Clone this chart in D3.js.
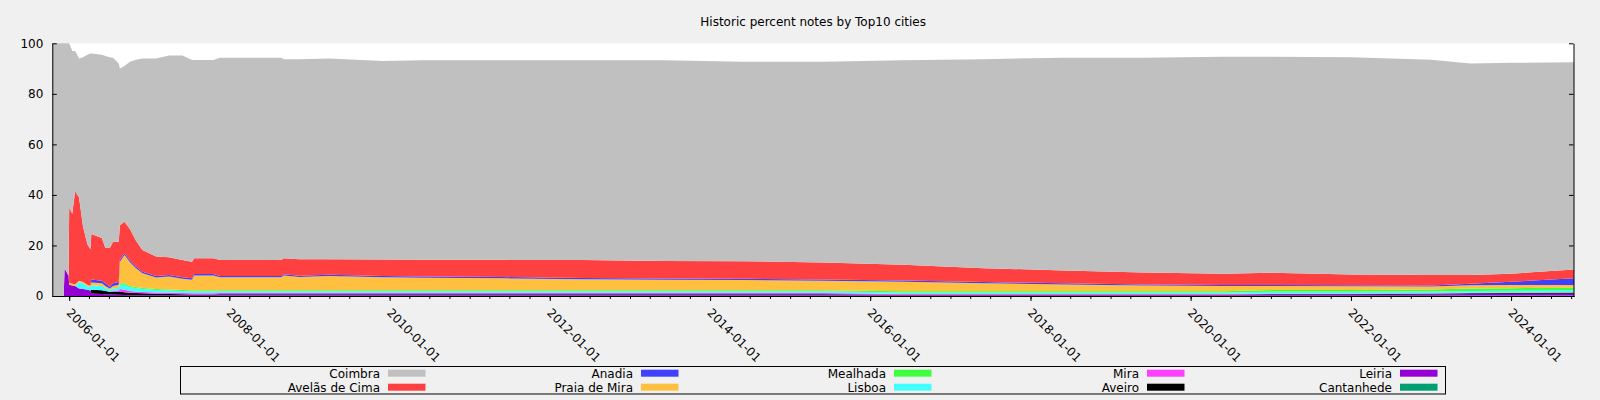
<!DOCTYPE html>
<html><head><meta charset="utf-8">
<script src="https://cdn.jsdelivr.net/npm/d3@7"></script>
<style>
body{margin:0;background:#f0f0f0;}
svg{display:block;font-family:"DejaVu Sans",sans-serif;}
</style>
</head><body>
<svg id="chart" width="1600" height="400"></svg>
<script>
// ---- data (percent of notes per city) ----
const dates = ["2005-10-16","2005-12-07","2005-12-11","2005-12-29","2006-01-01","2006-01-15","2006-01-28","2006-02-15","2006-03-05","2006-03-25",
  "2006-04-08","2006-04-12","2006-05-30","2006-06-15","2006-07-05","2006-07-20","2006-08-15","2006-08-20","2006-09-10","2006-10-05",
  "2006-11-01","2006-12-01","2007-02-01","2007-04-01","2007-06-01","2007-07-15","2007-07-25","2007-10-20","2007-11-20","2008-08-25",
  "2008-09-05","2008-11-15","2009-04-01","2009-12-01","2010-06-01","2011-06-01","2012-06-01","2013-06-01","2014-06-01","2015-06-01",
  "2016-06-01","2017-06-01","2018-06-01","2019-06-01","2020-06-01","2021-01-01","2022-01-01","2023-01-01","2023-07-01","2024-01-01","2024-10-14"];
const coimbra    = [100,100,89,92,65,64.5,55.5,55,67,75, 77.5,71.5,72.5,76,75.5,72.8,70.5,62,61.6,66.2, 71.5,75.8,78.4,79.9,81,79.8,78.5,78.5,80.1,80.1, 78.8,79.2,79.5,78.6,79.0,79.0,79.1,79.4,78.9,79.4, 80.9,82.7,84.2,85.0,85.9,85.5,86.0,85.2,83.7,83.45,82.0];
const avelas     = [0,0,0,0,29.8,27.7,36.9,33,22,16, 14.5,18,17,14,15.3,16.5,16,13.8,12.5,12.5, 10.4,8.6,7.7,7,6.8,6.6,6.2,6.2,6.3,6.3, 6.3,6.5,6.1,6.5,6.6,6.8,7.1,7.0,7.0,6.8, 6.3,5.5,5.1,4.7,4.4,4.8,4.2,4.1,3.5,3.2,3.5];
const anadia     = [0,0,0,0,0,0,0,0,0,0, 0,1.2,1,1,0.7,1,1,0.7,0.7,0.6, 0.6,0.6,0.6,0.6,0.6,0.6,0.6,0.6,0.5,0.5, 0.5,0.5,0.5,0.5,0.5,0.5,0.5,0.5,0.5,0.5, 0.5,0.5,0.4,0.4,0.4,0.4,0.4,0.4,0.5,1.3,2.65];
const praiaMira  = [0,0,0,0,0.7,0.6,0.6,0.5,0.5,0.5, 0.5,1,1,0.8,0.5,1,1.2,8.5,11.2,9.4, 7.4,5.8,4.5,5.1,4.4,4.1,5.8,5.8,5.1,5.1, 5.8,5.2,5.6,5.1,4.9,4.7,4.3,4.1,4.0,3.7, 3.7,3.1,2.7,2.3,2.1,1.6,1.5,1.2,1.3,1.25,1.05];
const mealhada   = [0,0,0,0,0,0,0,0,0,0, 0,0,0,0,0,0,0,0.5,0.5,0.5, 0.4,0.4,0.4,0.4,0.4,0.4,0.4,0.4,0.4,0.4, 0.4,0.4,0.4,0.4,0.4,0.4,0.4,0.4,0.4,0.4, 0.5,0.5,0.5,0.5,0.5,0.7,0.7,0.8,1.0,1.0,1.0];
const lisboa     = [0,0,0,0,0,0,0,2.5,2.2,1.5, 1.3,1.8,1.7,1.2,0.8,1,1.1,1.7,2,1.5, 1.4,1.2,1,0.9,0.8,0.8,0.8,0.8,0.7,0.7, 0.7,0.7,0.7,0.7,0.7,0.7,0.7,0.7,0.7,0.7, 0.6,0.6,0.6,0.6,0.6,0.7,0.7,0.7,0.7,0.7,0.8];
const mira       = [0,0,0,0,0,0,0,0,0,0, 0,0,0,0,0,0.3,0.6,1.1,1,0.7, 0.6,0.5,0.5,0.5,0.5,0.5,0.5,0.5,0.5,0.5, 0.5,0.5,0.5,0.5,0.5,0.5,0.5,0.5,0.5,0.5, 0.3,0.3,0.3,0.3,0.3,0.3,0.3,0.2,0.2,0.2,0.2];
const aveiro     = [0,0,0,0,0,0,0,0,0,0, 0,1.5,1.5,1.3,1.1,1.1,1.1,1.2,1.1,1, 0.9,0.8,0.6,0.5,0.4,0.3,0.3,0.3,0.3,0.3, 0.3,0.3,0.3,0.3,0.3,0.3,0.3,0.3,0.3,0.3, 0.2,0.2,0.2,0.2,0.2,0.3,0.3,0.3,0.3,0.3,0.4];
const leiria     = [0,0,11,8,4.5,4.2,4,3,2.8,2.5, 2.2,1,0.8,0.7,0.6,0.6,0.5,0.5,0.4,0.3, 0.3,0.3,0.3,0.3,0.3,0.3,0.3,0.3,0.3,0.3, 0.3,0.3,0.3,0.3,0.3,0.3,0.3,0.3,0.3,0.3, 0.2,0.2,0.2,0.2,0.2,0.3,0.3,0.5,0.6,0.7,0.7];
const cantanhede = [0,0,0,0,0,0,0,0,0,0, 0,0,0,0,0,0,0,0,0,0, 0,0,0,0,0,0,0,0,0.1,0.1, 0.1,0.1,0.1,0.1,0.1,0.1,0.1,0.1,0.1,0.1, 0.1,0.1,0.1,0.1,0.1,0.1,0.1,0.1,0.2,0.2,0.2];

const cities = ["Coimbra","Avelãs de Cima","Anadia","Praia de Mira","Mealhada","Lisboa","Mira","Aveiro","Leiria","Cantanhede"];
const series = [coimbra, avelas, anadia, praiaMira, mealhada, lisboa, mira, aveiro, leiria, cantanhede];
const colors = ["#c0c0c0","#ff4040","#4040ff","#ffc040","#40ff40","#40ffff","#ff40ff","#000000","#9400d3","#009e73"];
const yTicks = [0,20,40,60,80,100];
const xTickLabels = ["2006-01-01","2008-01-01","2010-01-01","2012-01-01","2014-01-01","2016-01-01","2018-01-01","2020-01-01","2022-01-01","2024-01-01"];
const title = "Historic percent notes by Top10 cities";

// ---- layout ----
const W = 1600, H = 400;
const L = 52.3, R = 1574, T = 43.3, B = 296;
const parse = d3.timeParse("%Y-%m-%d");
const fmt = d3.timeFormat("%Y-%m-%d");

const rows = dates.map((d, i) => {
  const o = {date: parse(d)};
  cities.forEach((c, k) => o[c] = series[k][i]);
  return o;
});

const svg = d3.select("#chart");
const x = d3.scaleTime().domain(d3.extent(rows, r => r.date)).range([L, R]);
const y = d3.scaleLinear().domain([0, 100]).range([B, T]);

// plot background
svg.append("rect").attr("x", L).attr("y", T).attr("width", R - L).attr("height", B - T).attr("fill", "#ffffff");

// stacked areas (bottom = last city)
const keys = cities.slice().reverse();
const stack = d3.stack().keys(keys)(rows);
const area = d3.area().x(d => x(d.data.date)).y0(d => y(d[0])).y1(d => y(d[1])).curve(d3.curveLinear);
svg.append("g").selectAll("path").data(stack).join("path")
  .attr("d", area)
  .attr("fill", d => colors[cities.indexOf(d.key)]);

// title
svg.append("text").attr("x", (L + R) / 2).attr("y", 26).attr("text-anchor", "middle")
  .attr("font-size", 12).attr("fill", "#000").text(title);

// y axes
const yAxisL = svg.append("g").attr("transform", `translate(${L},0)`)
  .call(d3.axisLeft(y).tickValues(yTicks).tickSize(-4.5).tickSizeOuter(0).tickPadding(9).tickFormat(d3.format("d")));
const yAxisR = svg.append("g").attr("transform", `translate(${R - 0.5},0)`)
  .call(d3.axisRight(y).tickValues(yTicks).tickSize(-4.5).tickSizeOuter(0).tickFormat(""));

// x axis: minor (quarterly) ticks
const minorTicks = d3.timeMonth.every(3).range(x.domain()[0], x.domain()[1]);
svg.append("g").attr("transform", `translate(0,${B})`)
  .call(d3.axisBottom(x).tickValues(minorTicks).tickSize(3).tickSizeOuter(0).tickFormat(""));
// major ticks
const majorDates = xTickLabels.map(parse);
const xAxis = svg.append("g").attr("transform", `translate(0,${B})`)
  .call(d3.axisBottom(x).tickValues(majorDates).tickSize(5).tickSizeOuter(0).tickFormat(fmt));
xAxis.selectAll("text")
  .attr("text-anchor", "start")
  .attr("dy", null)
  .attr("y", null)
  .attr("transform", "translate(-4,17.5) rotate(45)");

svg.selectAll(".tick text").attr("font-size", 12).attr("font-family", "DejaVu Sans").attr("fill", "#000");
svg.selectAll(".domain, .tick line").attr("stroke", "#000");

// legend
const lx = 180, ly = 366.5, colW = 253;
svg.append("rect").attr("x", lx + 0.5).attr("y", ly).attr("width", colW * 5).attr("height", 27.5)
  .attr("fill", "none").attr("stroke", "#000");
const lg = svg.append("g").selectAll("g").data(cities).join("g")
  .attr("transform", (d, i) => `translate(${lx + Math.floor(i / 2) * colW},${373.2 + (i % 2) * 14})`);
lg.append("text").attr("x", 200).attr("y", 4.3).attr("text-anchor", "end").attr("font-size", 12).text(d => d);
lg.append("rect").attr("x", 208).attr("y", -3.5).attr("width", 37.5).attr("height", 7)
  .attr("fill", (d, i) => colors[i]);
</script>
</body></html>
